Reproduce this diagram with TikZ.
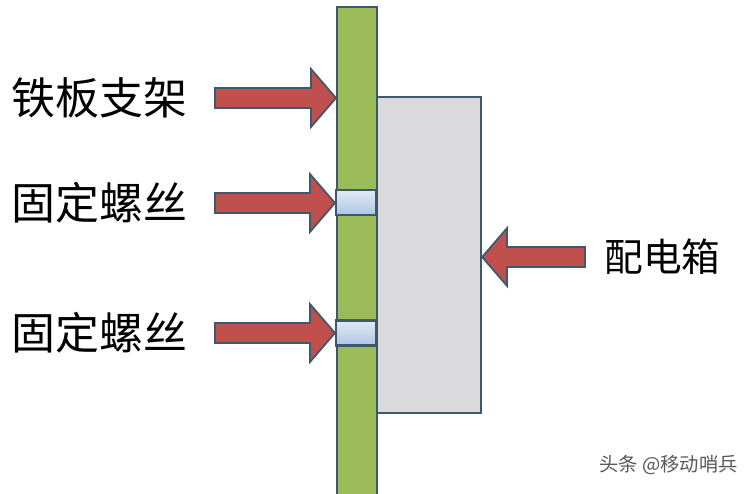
\documentclass[tikz,border=0pt]{standalone}
\usepackage{fontspec}
\newfontfamily\cjk{Noto Sans CJK SC}
\usepackage{tikz}
\usetikzlibrary{calc,positioning}
\definecolor{bargreen}{RGB}{155,187,89}
\definecolor{edgeblue}{RGB}{62,88,108}
\definecolor{arrowred}{RGB}{192,80,77}
\definecolor{boxgray}{RGB}{218,218,220}
\definecolor{screwtop}{RGB}{226,234,245}
\definecolor{screwbot}{RGB}{172,196,226}

\newcommand{\fatarrow}[2]{%
  \path (#1) coordinate (t) (#2) coordinate (h) ($(h)!0.5cm!(t)$) coordinate (b);
  \filldraw[arrowbody] ($(t)+(0,0.2)$) -- ($(b)+(0,0.2)$) -- ($(b)+(0,0.58)$) -- (h)
    -- ($(b)+(0,-0.58)$) -- ($(b)+(0,-0.2)$) -- ($(t)+(0,-0.2)$) -- cycle;}

\begin{document}
\begin{tikzpicture}[
    arrowbody/.style={fill=arrowred, draw=edgeblue, line width=1pt, line join=miter},
    part/.style={draw=edgeblue, line width=1.2pt, inner sep=0pt},
    label/.style={font=\cjk\fontsize{25}{29}\selectfont, inner sep=0pt, anchor=west}]
    \useasboundingbox (0,0) rectangle (15.08,9.86);

    % Box and bar
    \node[part, fill=boxgray, anchor=south west, minimum width=2.08cm, minimum height=6.32cm] (box) at (7.52,1.58) {};
    \node[part, fill=bargreen, anchor=south west, minimum width=0.8cm, minimum height=9.9cm] (bar) at (6.72,-0.2) {};

    % Screws
    \node[part, top color=screwtop, bottom color=screwbot, minimum width=0.8cm, minimum height=0.5cm] (screwa) at (7.12,5.81) {};
    \node[part, top color=screwtop, bottom color=screwbot, minimum width=0.8cm, minimum height=0.5cm] (screwb) at (7.12,3.2) {};

    % Labels
    \node[label] (frame) at (0.22,7.9) {铁板支架};
    \node[label] (screwlbla) at (0.22,5.8) {固定螺丝};
    \node[label] (screwlblb) at (0.22,3.2) {固定螺丝};
    \node[label, font=\cjk\fontsize{22}{26}\selectfont] (boxlbl) at (12.08,4.72) {配电箱};

    % Arrows
    \coordinate (tfa) at (4.3,7.9);
    \coordinate (tsa) at (4.3,5.8);
    \coordinate (tsb) at (4.3,3.2);
    \coordinate (tbx) at (11.7,4.72);
    \fatarrow{tfa}{bar.west |- tfa}
    \fatarrow{tsa}{screwa.west |- tsa}
    \fatarrow{tsb}{screwb.west |- tsb}
    \fatarrow{tbx}{box.east |- tbx}

    % Watermark
    \node[font=\cjk\fontsize{11}{13}\selectfont, text=black!65, anchor=west, inner sep=0pt] (mark) at (11.98,0.56) {头条 @移动哨兵};
\end{tikzpicture}
\end{document}
